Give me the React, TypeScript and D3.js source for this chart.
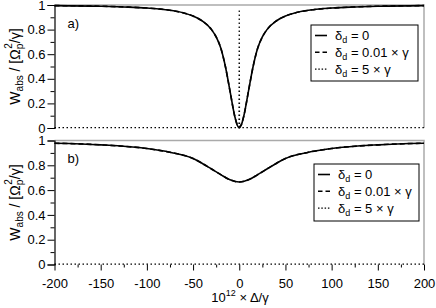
import React, { useEffect, useRef } from "react";
import * as d3 from "d3";

// detuning values (10^12 x Delta/gamma)
const deltaA = [-200, -150, -120, -100, -80, -60, -50, -40, -30, -25, -20, -15, -10, -5, -2, 0, 2, 5, 10, 15, 20, 25, 30, 40, 50, 60, 80, 100, 120, 150, 200];
// panel a) delta_d = 0
const solidA = [0.995, 0.99, 0.983, 0.975, 0.962, 0.935, 0.91, 0.87, 0.8, 0.74, 0.65, 0.5, 0.3, 0.1, 0.02, 0, 0.02, 0.1, 0.3, 0.5, 0.65, 0.74, 0.8, 0.87, 0.91, 0.935, 0.962, 0.975, 0.983, 0.99, 0.995];
// panel a) delta_d = 0.01 gamma
const dashedA = [0.995, 0.99, 0.983, 0.975, 0.962, 0.935, 0.91, 0.87, 0.8, 0.74, 0.65, 0.5, 0.3, 0.1, 0.025, 0.01, 0.025, 0.1, 0.3, 0.5, 0.65, 0.74, 0.8, 0.87, 0.91, 0.935, 0.962, 0.975, 0.983, 0.99, 0.995];
// panel a) delta_d = 5 gamma
const deltaDotA = [-200, -1, -0.3, 0, 0.3, 1, 200];
const dottedA = [0.003, 0.003, 0.003, 0.965, 0.003, 0.003, 0.003];

const deltaB = [-200, -150, -100, -75, -50, -40, -30, -20, -10, 0, 10, 20, 30, 40, 50, 75, 100, 150, 200];
const solidB = [0.978, 0.965, 0.935, 0.905, 0.855, 0.815, 0.77, 0.725, 0.683, 0.665, 0.683, 0.725, 0.77, 0.815, 0.855, 0.905, 0.935, 0.965, 0.978];
const dashedB = [0.978, 0.965, 0.935, 0.905, 0.855, 0.815, 0.77, 0.725, 0.683, 0.665, 0.683, 0.725, 0.77, 0.815, 0.855, 0.905, 0.935, 0.965, 0.978];
const deltaDotB = [-200, 200];
const dottedB = [0.003, 0.003];

const xTicks = [-200, -150, -100, -50, 0, 50, 100, 150, 200];
const xMinor = [-175, -125, -75, -25, 25, 75, 125, 175];
const yTicks = [0, 0.2, 0.4, 0.6, 0.8, 1];
const yMinor = [0.1, 0.3, 0.5, 0.7, 0.9];

const legendLabels = ["0", "0.01 \u00d7 \u03b3", "5 \u00d7 \u03b3"];
const dashes = [null, "4.5,3", "1.5,1.8"];

const FONT = "'Liberation Sans', Arial, Helvetica, sans-serif";

export default function App() {
  const svgRef = useRef<SVGSVGElement>(null);

  useEffect(() => {
    const svg = d3.select(svgRef.current);
    svg.selectAll("*").remove();

    const x = d3.scaleLinear().domain([-200, 200]).range([54.5, 424]);

    const panels = [
      { top: 5, bottom: 128, label: "a)", xs: deltaA, solid: solidA, dashed: dashedA, dotX: deltaDotA, dot: dottedA, showX: false, leg: { x: 311, y: 25, w: 107, h: 56 } },
      { top: 140.5, bottom: 264.5, label: "b)", xs: deltaB, solid: solidB, dashed: dashedB, dotX: deltaDotB, dot: dottedB, showX: true, leg: { x: 314, y: 164, w: 105, h: 57 } },
    ];

    panels.forEach((p) => {
      const y = d3.scaleLinear().domain([0, 1]).range([p.bottom, p.top]);
      const g = svg.append("g");

      // gray frame (top + right)
      g.append("path")
        .attr("d", `M${x(-200)},${y(1)}H${x(200)}V${y(0)}`)
        .attr("fill", "none")
        .attr("stroke", "#aaa")
        .attr("stroke-width", 1.5);

      // y axis
      const ya = g.append("g").attr("transform", `translate(${x(-200)},0)`)
        .call(d3.axisLeft(y).tickValues(yTicks).tickSize(7).tickPadding(2).tickFormat((d) => String(+d)));
      ya.select(".domain").attr("stroke", "#000").attr("stroke-width", 1.2);
      ya.selectAll("text").style("font-family", FONT).style("font-size", "13px").attr("fill", "#000");
      const ym = g.append("g").attr("transform", `translate(${x(-200)},0)`)
        .call(d3.axisLeft(y).tickValues(yMinor).tickSize(4).tickFormat(() => ""));
      ym.select(".domain").remove();

      if (p.showX) {
        const xa = g.append("g").attr("transform", `translate(0,${y(0)})`)
          .call(d3.axisBottom(x).tickValues(xTicks).tickSize(6).tickPadding(8).tickFormat((d) => String(+d)));
        xa.select(".domain").remove();
        xa.selectAll("text").style("font-family", FONT).style("font-size", "13px").attr("fill", "#000");
        const xm = g.append("g").attr("transform", `translate(0,${y(0)})`)
          .call(d3.axisBottom(x).tickValues(xMinor).tickSize(3).tickFormat(() => ""));
        xm.select(".domain").remove();
      }

      const lineGen = (xs: number[], curve: d3.CurveFactory) =>
        d3.line<number>().x((_, i) => x(xs[i])).y((d) => y(d)).curve(curve);

      g.append("path").datum(p.dot)
        .attr("d", lineGen(p.dotX, d3.curveLinear))
        .attr("fill", "none").attr("stroke", "#000").attr("stroke-width", 1.2)
        .attr("stroke-dasharray", "1.5,2.5");
      g.append("path").datum(p.solid)
        .attr("d", lineGen(p.xs, d3.curveMonotoneX))
        .attr("fill", "none").attr("stroke", "#000").attr("stroke-width", 1.6);
      g.append("path").datum(p.dashed)
        .attr("d", lineGen(p.xs, d3.curveMonotoneX))
        .attr("fill", "none").attr("stroke", "#000").attr("stroke-width", 1.6)
        .attr("stroke-dasharray", "5,3");

      // panel label
      g.append("text").attr("x", x(-200) + 13).attr("y", p.top + 22.5)
        .style("font-family", FONT).style("font-size", "13px").text(p.label);

      // legend
      const L = p.leg;
      g.append("rect").attr("x", L.x).attr("y", L.y).attr("width", L.w).attr("height", L.h)
        .attr("fill", "#fff").attr("stroke", "#000").attr("stroke-width", 1);
      legendLabels.forEach((lab, i) => {
        const cy = L.y + 10.5 + i * 16.8;
        const ln = g.append("line").attr("x1", L.x + 4).attr("x2", L.x + 16)
          .attr("y1", cy).attr("y2", cy)
          .attr("stroke", "#000").attr("stroke-width", i === 2 ? 1.2 : 1.6);
        if (dashes[i]) ln.attr("stroke-dasharray", dashes[i] as string);
        const t = g.append("text").attr("x", L.x + 24).attr("y", cy + 4.5)
          .style("font-family", FONT).style("font-size", "13px");
        t.append("tspan").text("\u03b4");
        t.append("tspan").attr("dy", 3).style("font-size", "9px").text("d");
        t.append("tspan").attr("dy", -3).text(" = " + lab);
      });

      // y title
      const yt = g.append("text")
        .attr("transform", `translate(20,${(p.top + p.bottom) / 2}) rotate(-90)`)
        .attr("text-anchor", "middle")
        .style("font-family", FONT).style("font-size", "14px");
      yt.append("tspan").text("W");
      yt.append("tspan").attr("dy", 3).style("font-size", "10px").text("abs");
      yt.append("tspan").attr("dy", -3).text(" / [\u03a9");
      yt.append("tspan").attr("dy", 3).style("font-size", "10px").text("p");
      yt.append("tspan").attr("dx", -5).attr("dy", -11).style("font-size", "10px").text("2");
      yt.append("tspan").attr("dy", 8).text("/\u03b3]");
    });

    // x title
    const xt = svg.append("text").attr("x", 240).attr("y", 302)
      .attr("text-anchor", "middle")
      .style("font-family", FONT).style("font-size", "13px");
    xt.append("tspan").text("10");
    xt.append("tspan").attr("dy", -6).style("font-size", "9px").text("12");
    xt.append("tspan").attr("dy", 6).text(" \u00d7 \u0394/\u03b3");
  }, []);

  return (
    <svg ref={svgRef} width={436} height={308}
      style={{ position: "absolute", left: 0, top: 0, background: "#fff" }} />
  );
}
